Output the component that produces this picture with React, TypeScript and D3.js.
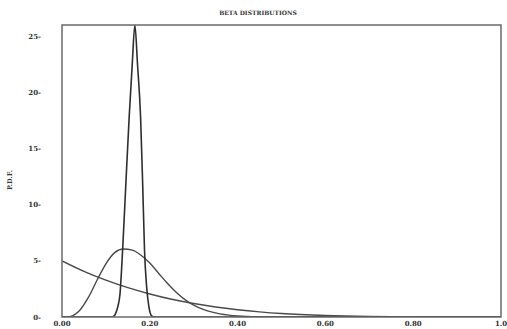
import React from "react";
import * as d3 from "d3";

const W = 507;
const H = 329;

// Series
const wideX = [0, 0.05, 0.1, 0.15, 0.2, 0.25, 0.3, 0.35, 0.4, 0.45, 0.5, 0.6, 0.7, 0.8, 0.9, 1.0];
const wideY = [5.0, 4.07, 3.28, 2.61, 2.05, 1.58, 1.2, 0.89, 0.65, 0.46, 0.31, 0.13, 0.04, 0.008, 0.0005, 0];

const midX = [0, 0.02, 0.04, 0.06, 0.08, 0.1, 0.12, 0.14, 0.16, 0.18, 0.2, 0.22, 0.24, 0.26, 0.28, 0.3, 0.32, 0.34, 0.36, 0.38, 0.4, 0.45, 0.5, 0.6, 1.0];
const midY = [0, 0.06, 0.57, 1.74, 3.29, 4.74, 5.73, 6.05, 5.95, 5.5, 4.8, 3.9, 3.0, 2.2, 1.55, 1.05, 0.7, 0.45, 0.28, 0.17, 0.1, 0.025, 0.004, 0, 0];

const sharpX = [0, 0.11, 0.117, 0.122, 0.127, 0.132, 0.138, 0.145, 0.153, 0.16, 0.166, 0.172, 0.179, 0.184, 0.188, 0.193, 0.198, 0.204, 0.21, 1.0];
const sharpY = [0, 0, 0.05, 0.3, 0.9, 2.0, 5.9, 11.5, 17.8, 22.5, 26, 22.5, 17.8, 11.5, 5.9, 2.6, 0.9, 0.1, 0, 0];

const xTicks = [0, 0.2, 0.4, 0.6, 0.8, 1.0];
const xTickLabels = ["0.00", "0.20", "0.40", "0.60", "0.80", "1.0"];
const yTicks = [0, 5, 10, 15, 20, 25];
const yTickLabels = ["0-", "5-", "10-", "15-", "20-", "25-"];

const title = "BETA DISTRIBUTIONS";
const yLabel = "P.D.F.";

export default function App() {
  const x = d3.scaleLinear().domain([0, 1]).range([62, 501]);
  const y = d3.scaleLinear().domain([0, 26]).range([317, 25]);

  const mk = (xs: number[], ys: number[], curve: d3.CurveFactory) =>
    d3
      .line<number>()
      .x((_, i) => x(xs[i]))
      .y((d) => y(d))
      .curve(curve)(ys) || "";

  const font = "'DejaVu Serif', 'Liberation Serif', serif";
  const lineColor = "#4a4a4a";

  return (
    <svg
      width={W}
      height={H}
      style={{ position: "absolute", left: 0, top: 0, background: "#fff" }}
    >
      <rect x={0} y={0} width={W} height={H} fill="#fff" />
      <text
        x={258}
        y={15}
        textAnchor="middle"
        fontFamily={font}
        fontSize={6}
        fontWeight="bold"
        fill="#333"
      >
        {title}
      </text>
      <defs>
        <clipPath id="plotclip">
          <rect x={x(0)} y={y(26)} width={x(1) - x(0)} height={y(0) - y(26)} />
        </clipPath>
      </defs>
      <g clipPath="url(#plotclip)" fill="none" stroke={lineColor} strokeWidth={1.4}>
        <path d={mk(wideX, wideY, d3.curveMonotoneX)} />
        <path d={mk(midX, midY, d3.curveMonotoneX)} />
        <path d={mk(sharpX, sharpY, d3.curveMonotoneX)} strokeWidth={1.6} stroke="#2e2e2e" />
      </g>
      <rect
        x={x(0)}
        y={y(26)}
        width={x(1) - x(0)}
        height={y(0) - y(26)}
        fill="none"
        stroke="#6a6a6a"
        strokeWidth={1.5}
      />
      {xTicks.map((t, i) => (
        <text
          key={"xt" + i}
          x={x(t)}
          y={326}
          textAnchor="middle"
          fontFamily={font}
          fontSize={7}
          fontWeight="bold"
          fill="#333"
        >
          {xTickLabels[i]}
        </text>
      ))}
      {yTicks.map((t, i) => (
        <text
          key={"yt" + i}
          x={41}
          y={y(t) + 2.5}
          textAnchor="end"
          fontFamily={font}
          fontSize={7}
          fontWeight="bold"
          fill="#333"
        >
          {yTickLabels[i]}
        </text>
      ))}
      <text
        transform={`translate(12,180) rotate(-90)`}
        textAnchor="middle"
        fontFamily={font}
        fontSize={6.5}
        fontWeight="bold"
        fill="#333"
      >
        {yLabel}
      </text>
    </svg>
  );
}
